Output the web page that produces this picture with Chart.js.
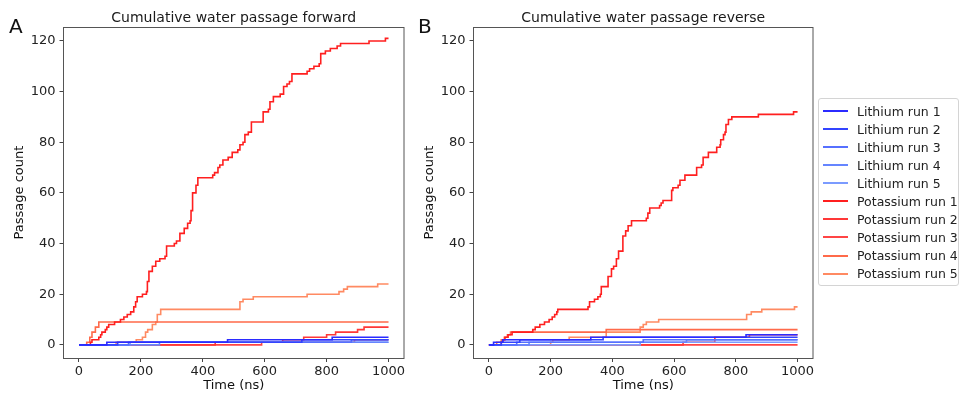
<!DOCTYPE html>
<html>
<head>
<meta charset="utf-8">
<script src="https://cdn.jsdelivr.net/npm/chart.js@4.4.1/dist/chart.umd.min.js"></script>
<style>
    body { margin: 0; background: #fff; width: 960px; height: 395px; position: relative; overflow: hidden; font-family: "DejaVu Sans", sans-serif; }
    canvas { position: absolute; top: 0; }
    #chartA { left: 0; }
    #chartB { left: 410px; }
    .letter { position: absolute; top: 16px; font-size: 20px; line-height: 1; color: #111; }
    #legend { position: absolute; left: 818px; top: 98px; width: 141px; box-sizing: border-box; border: 1px solid #d4d4d4; border-radius: 3px; padding: 3px 0 2px 0; background: #fff; }
    .item { height: 18.07px; display: flex; align-items: center; font-size: 12.5px; color: #222; white-space: nowrap; }
    .swatch { display: inline-block; width: 25px; height: 2px; margin: 0 9px 0 4px; flex: none; }
</style>
</head>
<body>
<canvas id="chartA" width="410" height="395"></canvas>
<canvas id="chartB" width="410" height="395"></canvas>
<div class="letter" style="left:9px">A</div>
<div class="letter" style="left:418px">B</div>
<div id="legend"></div>
<script>
const timeTicks = [0, 200, 400, 600, 800, 1000];
const countTicks = [0, 20, 40, 60, 80, 100, 120];

const runLabels = [
    "Lithium run 1", "Lithium run 2", "Lithium run 3", "Lithium run 4", "Lithium run 5",
    "Potassium run 1", "Potassium run 2", "Potassium run 3", "Potassium run 4", "Potassium run 5",
];
const runColors = [
    "#2b2bff", "#3344ff", "#5670ff", "#6585ff", "#7b9bff",
    "#ff1f1f", "#ff3838", "#ff4545", "#ff6a4a", "#ff8a62",
];

// forward passages: [time (ns), cumulative count]
const fwdLi1 = [[0, 0], [90, 1], [480, 2], [818, 3], [1000, 3]];
const fwdLi2 = [[0, 0], [125, 1], [720, 2], [1000, 2]];
const fwdLi3 = [[0, 0], [160, 1], [880, 2], [1000, 2]];
const fwdLi4 = [[0, 0], [260, 1], [1000, 1]];
const fwdLi5 = [[0, 0], [165, 1], [1000, 1]];
const fwdK1 = [
    [0, 0], [37, 1], [42, 2], [64, 3], [70, 4], [74, 5], [85, 6], [90, 7], [96, 8], [115, 9],
    [134, 10], [145, 11], [156, 12], [167, 13], [177, 15], [183, 17], [188, 19], [205, 20], [218, 21], [221, 25],
    [226, 29], [237, 31], [248, 33], [261, 34], [278, 35], [283, 39], [308, 40], [315, 41], [326, 44], [340, 46],
    [351, 48], [359, 49], [362, 53], [367, 60], [378, 63], [384, 66], [432, 67], [438, 68], [449, 70], [455, 71],
    [465, 73], [482, 74], [495, 76], [513, 77], [520, 79], [530, 80], [536, 83], [547, 84], [557, 88], [595, 92],
    [612, 93], [617, 96], [628, 98], [650, 99], [661, 102], [672, 103], [680, 104], [688, 107], [737, 108], [745, 109],
    [759, 110], [776, 111], [781, 115], [796, 116], [812, 117], [834, 118], [845, 119], [937, 120], [990, 121], [1000, 121],
];
const fwdK2 = [[0, 0], [440, 1], [658, 2], [726, 3], [800, 4], [829, 5], [900, 6], [921, 7], [1000, 7]];
const fwdK3 = [[0, 0], [590, 1], [890, 2], [1000, 2]];
const fwdK4 = [[0, 0], [25, 1], [35, 3], [42, 5], [53, 7], [64, 9], [1000, 9]];
const fwdK5 = [
    [0, 0], [120, 1], [185, 2], [205, 3], [215, 5], [222, 6], [237, 8], [248, 9], [253, 12], [264, 14],
    [520, 17], [530, 18], [563, 19], [737, 20], [840, 21], [855, 22], [867, 23], [965, 24], [1000, 24],
];

// reverse passages
const revLi1 = [[0, 0], [15, 1], [45, 2], [330, 3], [833, 4], [1000, 4]];
const revLi2 = [[0, 0], [40, 1], [100, 2], [370, 3], [1000, 3]];
const revLi3 = [[0, 0], [90, 1], [500, 2], [1000, 2]];
const revLi4 = [[0, 0], [130, 1], [640, 2], [1000, 2]];
const revLi5 = [[0, 0], [490, 1], [1000, 1]];
const revK1 = [
    [0, 0], [40, 1], [45, 2], [52, 3], [62, 4], [75, 5], [142, 6], [150, 7], [165, 8], [180, 9],
    [195, 10], [205, 11], [213, 12], [220, 13], [223, 14], [321, 15], [326, 17], [342, 18], [353, 19], [361, 20],
    [364, 23], [386, 27], [397, 30], [404, 31], [413, 34], [420, 37], [434, 43], [443, 45], [451, 47], [462, 49],
    [510, 50], [515, 52], [521, 54], [553, 55], [558, 56], [564, 57], [592, 61], [596, 62], [613, 63], [619, 65],
    [635, 67], [673, 70], [689, 71], [694, 74], [711, 76], [738, 78], [749, 79], [751, 81], [760, 83], [765, 84],
    [768, 87], [776, 89], [787, 90], [873, 91], [987, 92], [1000, 92],
];
const revK2 = [[0, 0], [629, 1], [732, 3], [844, 4], [1000, 4]];
const revK3 = [[0, 0], [1000, 0]];
const revK4 = [[0, 0], [25, 1], [40, 2], [50, 3], [60, 4], [70, 5], [380, 6], [1000, 6]];
const revK5 = [
    [0, 0], [200, 1], [207, 2], [260, 3], [380, 5], [490, 7], [500, 8], [510, 9], [550, 10], [835, 12],
    [850, 13], [884, 14], [990, 15], [1000, 15],
];

const fwdRuns = [fwdLi1, fwdLi2, fwdLi3, fwdLi4, fwdLi5, fwdK1, fwdK2, fwdK3, fwdK4, fwdK5];
const revRuns = [revLi1, revLi2, revLi3, revLi4, revLi5, revK1, revK2, revK3, revK4, revK5];

const FONT = "'DejaVu Sans', sans-serif";

// box around the plot area plus the panel title
const panelFrame = {
    id: "panelFrame",
    afterDraw(chart, args, opts) {
        const { ctx, chartArea: a } = chart;
        ctx.save();
        ctx.strokeStyle = "#555";
        ctx.lineWidth = 1;
        ctx.strokeRect(a.left, Math.round(a.top) + 0.5, a.right - a.left, Math.round(a.bottom - a.top));
        ctx.fillStyle = "#1a1a1a";
        ctx.font = "14px " + FONT;
        ctx.textAlign = "center";
        ctx.textBaseline = "middle";
        ctx.fillText(opts.title, (a.left + a.right) / 2, a.top - 9);
        ctx.restore();
    },
};

function makeChart(id, runs, title, padRight) {
    return new Chart(document.getElementById(id), {
        type: "line",
        data: {
            datasets: runs.map((run, i) => ({
                label: runLabels[i],
                data: run.map(([x, y]) => ({ x, y })),
                borderColor: runColors[i],
                borderWidth: 1.6,
                stepped: true,
                pointRadius: 0,
                fill: false,
            })),
        },
        options: {
            responsive: false,
            animation: false,
            events: [],
            layout: { padding: { left: 0, right: padRight, top: 27, bottom: 0 } },
            scales: {
                x: {
                    type: "linear",
                    min: -50,
                    max: 1050,
                    afterBuildTicks: (s) => { s.ticks = timeTicks.map((v) => ({ value: v })); },
                    afterFit: (s) => { s.height = 37; },
                    grid: { drawOnChartArea: false, tickLength: 4, color: "#444" },
                    border: { display: false },
                    ticks: { color: "#222", padding: 2, font: { family: FONT, size: 13 }, callback: (v) => String(v) },
                    title: { display: true, text: "Time (ns)", color: "#111", font: { family: FONT, size: 13 }, padding: { top: 0, bottom: 2 } },
                },
                y: {
                    min: -5.2,
                    max: 125.5,
                    afterBuildTicks: (s) => { s.ticks = countTicks.map((v) => ({ value: v })); },
                    afterFit: (s) => { s.width = 63.5; },
                    grid: { drawOnChartArea: false, tickLength: 4, color: "#444" },
                    border: { display: false },
                    ticks: { color: "#222", padding: 4, font: { family: FONT, size: 13 }, callback: (v) => String(v) },
                    title: { display: true, text: "Passage count", color: "#111", font: { family: FONT, size: 13 }, padding: { top: 12, bottom: 0 } },
                },
            },
            plugins: {
                legend: { display: false },
                tooltip: { enabled: false },
                panelFrame: { title },
            },
        },
        plugins: [panelFrame],
    });
}

const chartA = makeChart("chartA", fwdRuns, "Cumulative water passage forward", 6);
const chartB = makeChart("chartB", revRuns, "Cumulative water passage reverse", 7);

// shared legend, built from the run labels and colours
const legendEl = document.getElementById("legend");
runLabels.forEach((label, i) => {
    const row = document.createElement("div");
    row.className = "item";
    const sw = document.createElement("span");
    sw.className = "swatch";
    sw.style.backgroundColor = runColors[i];
    row.appendChild(sw);
    row.appendChild(document.createTextNode(label));
    legendEl.appendChild(row);
});
</script>
</body>
</html>
